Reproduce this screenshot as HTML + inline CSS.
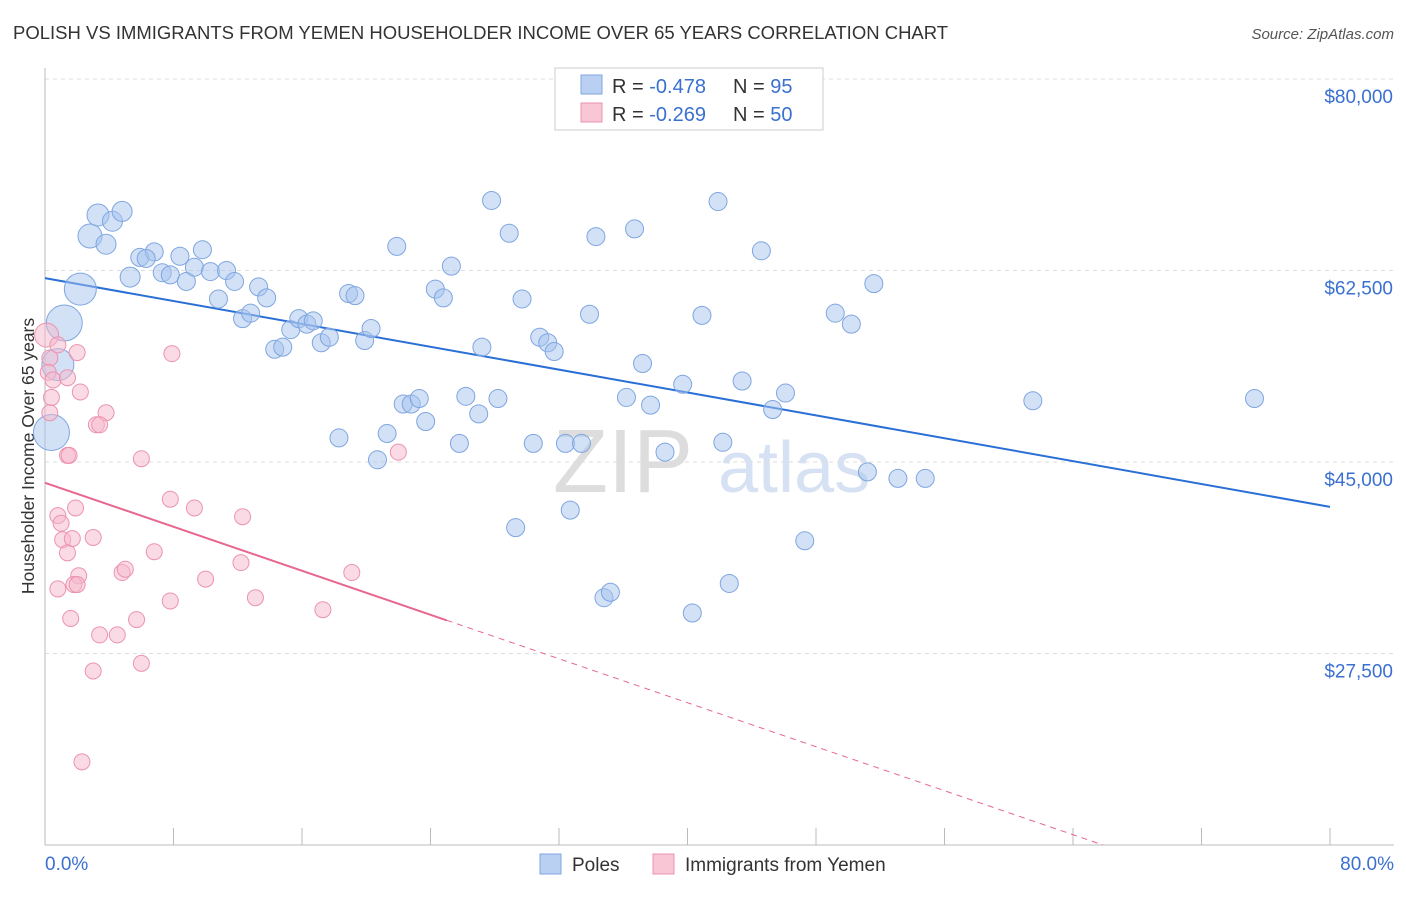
<!DOCTYPE html>
<html><head><meta charset="utf-8"><style>
body{margin:0;background:#fff;font-family:"Liberation Sans",sans-serif;}
svg text{font-family:"Liberation Sans",sans-serif;}
</style></head><body>
<svg id="chart" width="1406" height="892" xmlns="http://www.w3.org/2000/svg">
<text x="13" y="39" font-size="18.5" fill="#333">POLISH VS IMMIGRANTS FROM YEMEN HOUSEHOLDER INCOME OVER 65 YEARS CORRELATION CHART</text>
<text x="1394" y="39" font-size="15" font-style="italic" fill="#555" text-anchor="end">Source: ZipAtlas.com</text>
<text transform="translate(34,456) rotate(-90)" font-size="17.5" fill="#333" text-anchor="middle">Householder Income Over 65 years</text>
<text x="553" y="492" font-size="90" fill="#ddd" font-family="Liberation Serif">ZIP</text>
<text x="718" y="492" font-size="72" fill="#d6e2f3">atlas</text>
<g id="grid"></g><g id="axes"></g><g id="trend"></g><g id="pts"></g>
<g>
<rect x="555" y="68" width="268" height="62" fill="#fff" stroke="#ccc"/>
<rect x="581" y="75" width="21" height="19" fill="#b9d0f2" stroke="#7fa6e0"/>
<rect x="581" y="103" width="21" height="19" fill="#f8c6d5" stroke="#ec93ae"/>
<text x="612" y="93" font-size="20" fill="#333">R = <tspan fill="#3a70d0">-0.478</tspan></text>
<text x="733" y="93" font-size="20" fill="#333">N = <tspan fill="#3a70d0">95</tspan></text>
<text x="612" y="121" font-size="20" fill="#333">R = <tspan fill="#3a70d0">-0.269</tspan></text>
<text x="733" y="121" font-size="20" fill="#333">N = <tspan fill="#3a70d0">50</tspan></text>
</g>
<g>
<rect x="540" y="854" width="21" height="20" fill="#b9d0f2" stroke="#7fa6e0"/>
<text x="572" y="871" font-size="19" fill="#333">Poles</text>
<rect x="653" y="854" width="21" height="20" fill="#f8c6d5" stroke="#ec93ae"/>
<text x="685" y="871" font-size="19" fill="#333">Immigrants from Yemen</text>
</g>
</svg>
<script>
const yTicks=[80000,62500,45000,27500];
const yTickLabels=["$80,000","$62,500","$45,000","$27,500"];
const xTickLabels=["0.0%","80.0%"];
const polesX=[0.4,1.2,2.2,0.8,2.8,3.3,4.2,4.8,3.8,5.3,5.9,6.8,6.3,7.3,7.8,8.4,8.8,9.3,9.8,10.3,10.8,11.3,11.8,12.3,12.8,13.3,13.8,14.3,14.8,15.3,15.8,16.3,16.7,17.2,17.7,18.3,18.9,19.3,19.9,20.3,20.7,21.3,21.9,22.3,22.8,23.3,23.7,24.3,24.8,25.3,25.8,26.2,27.0,27.2,27.8,28.2,28.9,29.3,29.7,30.4,30.8,31.3,31.7,32.4,32.7,33.4,33.9,34.3,34.8,35.2,36.2,36.7,37.2,37.7,38.6,39.7,40.3,40.9,41.9,42.2,42.6,43.4,44.6,45.3,46.1,47.3,49.2,50.2,51.2,51.6,53.1,54.8,61.5,75.3];
const polesY=[47700,57700,60800,53900,65650,67570,67000,67900,64900,61900,63700,64200,63600,62300,62100,63800,61500,62800,64400,62400,59900,62500,61500,58100,58600,61000,60000,55300,55500,57100,58100,57600,57900,55900,56400,47200,60400,60200,56100,57200,45200,47600,64700,50300,50300,50800,48700,60800,60000,62900,46700,51000,49400,55500,68900,50800,65900,39000,59900,46700,56400,55900,55100,46700,40600,46700,58500,65600,32600,33100,50900,66300,54000,50200,45900,52100,31200,58400,68800,46800,33900,52400,64300,49800,51300,37800,58600,57600,44100,61300,43500,43500,50600,50800];
const polesR=[18,18,16,16,12,11,10,10,10,10,9,9,9,9,9,9,9,9,9,9,9,9,9,9,9,9,9,9,9,9,9,9,9,9,9,9,9,9,9,9,9,9,9,9,9,9,9,9,9,9,9,9,9,9,9,9,9,9,9,9,9,9,9,9,9,9,9,9,9,9,9,9,9,9,9,9,9,9,9,9,9,9,9,9,9,9,9,9,9,9,9,9,9,9];
const yemenX=[0.1,0.3,0.2,0.5,0.4,0.3,0.8,1.4,2.0,2.2,3.8,3.2,3.4,1.4,1.5,6.0,7.9,7.8,9.3,12.3,22.0,0.8,1.0,1.9,1.1,1.7,3.0,1.4,6.8,0.8,2.1,1.8,2.0,4.8,5.0,10.0,12.2,1.6,3.4,4.5,5.7,7.8,13.1,17.3,19.1,6.0,3.0,2.3];
const yemenY=[56600,54500,53200,52500,50900,49500,55700,52700,55000,51400,49500,48400,48400,45600,45600,45300,54900,41600,40800,40000,45900,40100,39400,40800,37900,38000,38100,36700,36800,33400,34600,33800,33800,34900,35200,34300,35800,30700,29200,29200,30600,32300,32600,31500,34900,26600,25900,17600];
const polesTrend=[61800,40900];
const yemenTrend=[43100,2900];
const NS="http://www.w3.org/2000/svg";
const X0=45,X1=1330,Y0=845,Y1=79;
const sx=v=>X0+(v/80)*(X1-X0);
const sy=v=>Y0-(v-10000)/70000*(Y0-Y1);
function mk(tag,attrs,parent){const e=document.createElementNS(NS,tag);for(const k in attrs)e.setAttribute(k,attrs[k]);parent.appendChild(e);return e;}
const grid=document.getElementById('grid'),axes=document.getElementById('axes'),trend=document.getElementById('trend'),pts=document.getElementById('pts');
yTicks.forEach((t,i)=>{
 const l=mk('line',{x1:X0,x2:1394,y1:sy(t),y2:sy(t),stroke:'#ddd','stroke-dasharray':'4,4'},grid);
 
 
 const tx=mk('text',{x:1393,y:sy(t)+24,'font-size':19,fill:'#3a70d0','text-anchor':'end'},axes);
 tx.textContent=yTickLabels[i];
 
 
});
const ax=mk('line',{x1:X0,x2:X0,y1:68,y2:Y0,stroke:'#bbb'},axes);


const bx=mk('line',{x1:X0,x2:1394,y1:Y0,y2:Y0,stroke:'#bbb'},axes);


for(let i=1;i<=10;i++){const tk=mk('line',{x1:sx(i*8),x2:sx(i*8),y1:828,y2:Y0,stroke:'#bbb'},axes);
 
 }
const xl0=mk('text',{x:45,y:870,'font-size':19,fill:'#3a70d0'},axes);xl0.textContent=xTickLabels[0];


const xl1=mk('text',{x:1394,y:870,'font-size':19,fill:'#3a70d0','text-anchor':'end'},axes);xl1.textContent=xTickLabels[1];


polesX.forEach((x,i)=>{const c=mk('circle',{cx:sx(x),cy:sy(polesY[i]),r:polesR[i],fill:'rgba(165,195,238,0.5)',stroke:'#7fa6e0','stroke-width':1},pts);
 
 });
yemenX.forEach((x,i)=>{const c=mk('circle',{cx:sx(x),cy:sy(yemenY[i]),r:i==0?12:8,fill:'rgba(246,184,204,0.5)',stroke:'#ec93ae','stroke-width':1},pts);
 
 });
const pl=mk('line',{x1:sx(0),y1:sy(polesTrend[0]),x2:sx(80),y2:sy(polesTrend[1]),stroke:'#2a6fd6','stroke-width':2},trend);


const yf=x=>yemenTrend[0]+(yemenTrend[1]-yemenTrend[0])*x/80;
const ys=mk('line',{x1:sx(0),y1:sy(yf(0)),x2:sx(25),y2:sy(yf(25)),stroke:'#e8678f','stroke-width':2},trend);


const xe=(10000-yemenTrend[0])/(yemenTrend[1]-yemenTrend[0])*80;
const yd=mk('line',{x1:sx(25),y1:sy(yf(25)),x2:sx(xe),y2:sy(10000),stroke:'#e8678f','stroke-width':1,'stroke-dasharray':'6,5'},trend);


</script>
</body></html>
